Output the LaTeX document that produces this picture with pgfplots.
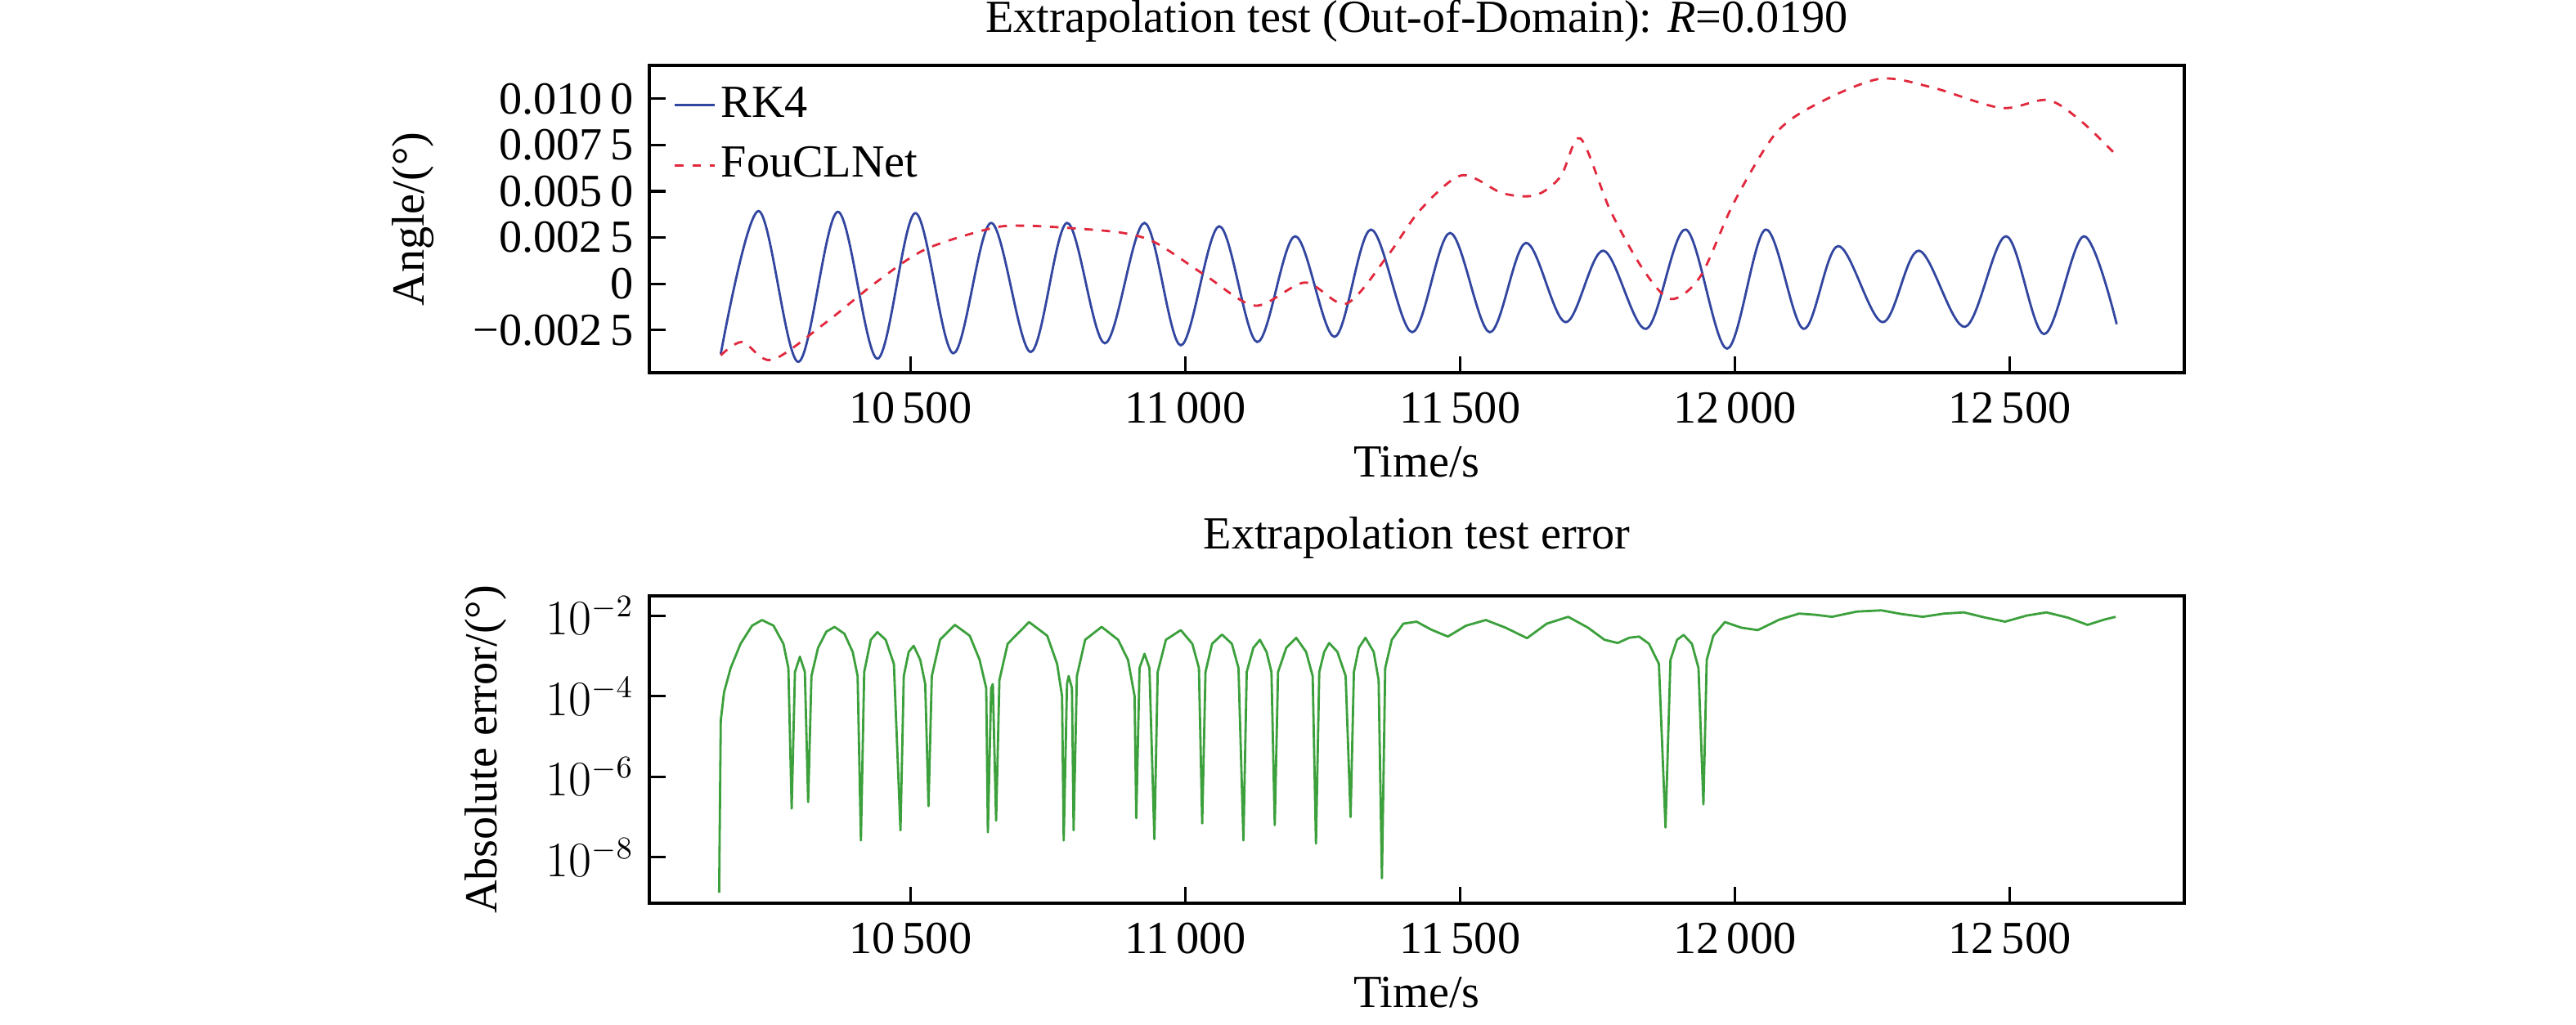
\documentclass[border=0pt]{standalone}
\usepackage{fontspec}
\setmainfont{Liberation Serif}
\usepackage{pgfplots}
\pgfplotsset{compat=1.18}
\definecolor{rkblue}{RGB}{50,70,160}
\definecolor{fred}{RGB}{225,40,60}
\definecolor{egreen}{RGB}{60,160,60}
\begin{document}
\fontsize{16}{19}\selectfont
\begin{tikzpicture}
\path[use as bounding box] (0,0) rectangle (31.5cm,12.53cm);
\pgfplotsset{every axis/.append style={
  scale only axis, width=18.77cm, height=3.76cm, anchor=south west,
  xmin=10025, xmax=12818, axis line style={line width=0.9pt},
  tick style={line width=0.9pt, black}, major tick length=0.2cm,
  tick align=inside, xtick pos=bottom, ytick pos=left,
  xtick={10500,11000,11500,12000,12500},
  xticklabels={10\,500,11\,000,11\,500,12\,000,12\,500},
  xticklabel style={font=\fontsize{16}{19}\selectfont, yshift=-0.05cm},
  yticklabel style={font=\fontsize{16}{19}\selectfont},
  label style={font=\fontsize{16}{19}\selectfont},
  title style={font=\fontsize{16}{19}\selectfont},
  xlabel={Time/s}, xlabel style={yshift=0.1cm},
  scaled y ticks=false, scaled x ticks=false,
}}
\begin{axis}[at={(7.94cm,7.97cm)}, ymin=-0.0048, ymax=0.0118,
  ytick={-0.0025,0,0.0025,0.005,0.0075,0.01},
  yticklabels={−0.002\,5,0,0.002\,5,0.005\,0,0.007\,5,0.010\,0},
  ylabel={Angle/(°)}, ylabel style={yshift=0.1cm},
  title={Extrapolation test (Out-of-Domain): \textit{R}=0.0190},
  title style={yshift=-0.12cm},
  legend style={draw=none, fill=none, at={(0.01,0.97)}, anchor=north west,
    font=\fontsize{16}{19}\selectfont, row sep=4pt},
  legend image post style={xscale=0.8},
  legend cell align=left]
\addplot[rkblue, line width=0.8pt, smooth, tension=0.55] coordinates {
(10155,-0.00379)(10224,0.00393)(10296,-0.00421)(10368,0.00389)(10440,-0.00404)
(10509,0.00382)(10578,-0.00375)(10647,0.00329)(10719,-0.00368)(10785,0.00329)
(10854,-0.00321)(10926,0.00329)(10992,-0.00332)(11062,0.00311)(11131,-0.00314)
(11200,0.00257)(11272,-0.00286)(11338,0.00293)(11413,-0.00261)(11482,0.00275)
(11554,-0.00261)(11620,0.00221)(11692,-0.00207)(11761,0.00179)(11839,-0.00243)
(11911,0.00293)(11986,-0.0035)(12056,0.00293)(12125,-0.00243)(12188,0.00204)
(12269,-0.00207)(12335,0.00179)(12419,-0.00232)(12494,0.00257)(12563,-0.00271)
(12635,0.00257)(12695,-0.00218)};
\addlegendentry{RK4}
\addplot[fred, line width=0.8pt, dashed, smooth] coordinates {
(10155,-0.00386)(10194,-0.00314)(10248,-0.00411)(10347,-0.00207)(10437,0.00007)
(10527,0.00186)(10647,0.003)(10707,0.00314)(10797,0.003)(10887,0.00275)
(10947,0.00221)(11038,0.00043)(11128,-0.00118)(11218,0.00007)(11293,-0.00107)
(11368,0.0015)(11428,0.004)(11503,0.00586)(11578,0.00489)(11638,0.00479)
(11683,0.00579)(11719,0.00786)(11773,0.004)(11833,0.00079)(11884,-0.00082)
(11938,0.00043)(11998,0.00436)(12074,0.00811)(12149,0.00971)(12263,0.01107)
(12359,0.01061)(12485,0.0095)(12569,0.00993)(12629,0.00882)(12695,0.00693)};
\addlegendentry{FouCLNet}
\end{axis}
\begin{axis}[at={(7.94cm,1.48cm)}, ymin=-9.14, ymax=-1.51,
  ytick={-8,-6,-4,-2},
  yticklabels={$10^{-8}$,$10^{-6}$,$10^{-4}$,$10^{-2}$},
  ylabel={Absolute error/(°)}, ylabel style={yshift=0.1cm},
  title={Extrapolation test error}, title style={yshift=0.05cm}]
\addplot[egreen, line width=0.8pt, line join=round] coordinates {
(10152,-8.88)(10155,-4.6)(10161,-3.9)(10173,-3.3)(10191,-2.7)(10212,-2.25)(10230,-2.11)
(10251,-2.25)(10269,-2.7)(10278,-3.3)(10284,-6.79)(10290,-3.4)(10299,-3.02)(10308,-3.4)
(10314,-6.63)(10320,-3.5)(10332,-2.8)(10347,-2.4)(10362,-2.28)(10380,-2.45)(10395,-2.9)
(10404,-3.5)(10410,-7.58)(10416,-3.4)(10428,-2.6)(10440,-2.41)(10455,-2.6)(10470,-3.2)
(10482,-7.33)(10488,-3.5)(10497,-2.9)(10506,-2.75)(10518,-3.1)(10527,-3.7)(10533,-6.73)
(10539,-3.5)(10554,-2.6)(10581,-2.23)(10608,-2.5)(10626,-3.1)(10638,-3.8)(10641,-7.38)
(10647,-3.8)(10650,-3.7)(10656,-7.09)(10662,-3.6)(10677,-2.7)(10716,-2.16)(10749,-2.5)
(10767,-3.2)(10776,-4)(10779,-7.58)(10785,-3.7)(10788,-3.5)(10794,-3.8)(10797,-7.33)
(10803,-3.5)(10818,-2.6)(10848,-2.28)(10878,-2.6)(10896,-3.1)(10908,-4)(10911,-7.03)
(10917,-3.3)(10926,-2.95)(10935,-3.3)(10944,-7.55)(10950,-3.4)(10965,-2.6)(10992,-2.36)
(11013,-2.7)(11025,-3.3)(11031,-7.16)(11037,-3.4)(11049,-2.7)(11067,-2.47)(11085,-2.7)
(11097,-3.3)(11106,-7.58)(11112,-3.4)(11124,-2.8)(11136,-2.6)(11148,-2.9)(11157,-3.4)
(11163,-7.2)(11169,-3.4)(11184,-2.8)(11202,-2.55)(11220,-2.9)(11232,-3.5)(11238,-7.66)
(11244,-3.4)(11253,-2.9)(11262,-2.68)(11277,-2.9)(11292,-3.5)(11301,-7.0)(11307,-3.4)
(11316,-2.8)(11328,-2.55)(11343,-2.9)(11352,-3.6)(11358,-8.52)(11364,-3.3)(11376,-2.6)
(11397,-2.2)(11421,-2.15)(11448,-2.35)(11478,-2.52)(11511,-2.25)(11547,-2.11)(11583,-2.3)
(11622,-2.56)(11658,-2.2)(11697,-2.03)(11733,-2.3)(11763,-2.6)(11787,-2.68)(11808,-2.55)
(11826,-2.52)(11844,-2.7)(11862,-3.2)(11874,-7.26)(11883,-3.1)(11895,-2.6)(11907,-2.48)
(11922,-2.7)(11934,-3.3)(11943,-6.69)(11949,-3.1)(11961,-2.5)(11982,-2.16)(12012,-2.3)
(12042,-2.36)(12081,-2.1)(12117,-1.95)(12147,-1.98)(12177,-2.03)(12222,-1.9)(12267,-1.87)
(12303,-1.96)(12342,-2.03)(12381,-1.95)(12417,-1.92)(12456,-2.05)(12492,-2.15)(12531,-2.0)
(12567,-1.92)(12606,-2.05)(12642,-2.23)(12672,-2.1)(12693,-2.03)};
\end{axis}
\end{tikzpicture}
\end{document}
